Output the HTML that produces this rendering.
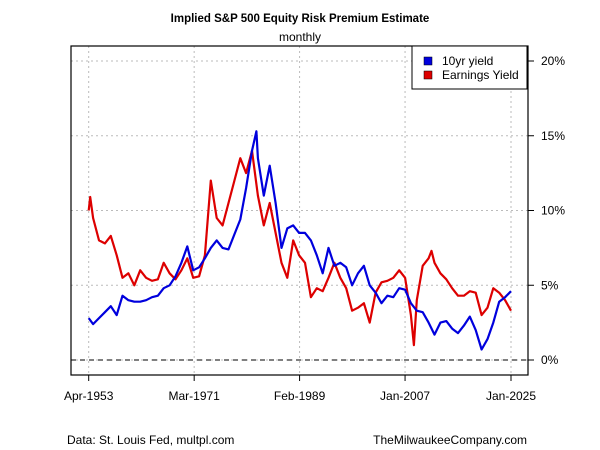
<!DOCTYPE html>
<html><head><meta charset="utf-8"><style>
body{margin:0;background:#fff;font-family:"Liberation Sans",Arial,sans-serif}
svg{display:block}
</style></head><body>
<svg width="600" height="450" xmlns="http://www.w3.org/2000/svg" font-family="Liberation Sans, Arial, sans-serif">
<g id="grid"></g>
<g id="series"></g>
<g id="axes"></g>
<text x="300" y="22" text-anchor="middle" font-size="11.5" font-weight="bold">Implied S&amp;P 500 Equity Risk Premium Estimate</text>
<text x="300" y="41" text-anchor="middle" font-size="12">monthly</text>
<text x="67" y="444" font-size="12">Data: St. Louis Fed, multpl.com</text>
<text x="527" y="444" text-anchor="end" font-size="12">TheMilwaukeeCompany.com</text>
<g>
<rect x="412" y="46" width="115" height="43" fill="#fff" stroke="#000" stroke-width="1"/>
<rect x="424" y="57" width="8" height="8" fill="#0000dd" stroke="#000" stroke-width="0.5"/>
<text x="442" y="65" font-size="12">10yr yield</text>
<rect x="424" y="71" width="8" height="8" fill="#dd0000" stroke="#000" stroke-width="0.5"/>
<text x="442" y="79" font-size="12">Earnings Yield</text>
</g>
</svg>
<script>
const yieldYears=[1953.25,1954,1955,1956,1957,1958,1959,1960,1961,1962,1963,1964,1965,1966,1967,1968,1969,1970,1971,1972,1973,1974,1975,1976,1977,1978,1979,1980,1981,1981.75,1982,1983,1984,1985,1986,1987,1988,1989,1990,1991,1992,1993,1994,1995,1996,1997,1998,1999,2000,2001,2002,2003,2004,2005,2006,2007,2008,2009,2010,2011,2012,2013,2014,2015,2016,2017,2018,2019,2020,2021,2022,2023,2024,2025];
const yieldValues=[2.8,2.4,2.8,3.2,3.6,3.0,4.3,4.0,3.9,3.9,4.0,4.2,4.3,4.8,5.0,5.6,6.5,7.6,6.0,6.2,6.8,7.5,8.0,7.5,7.4,8.4,9.4,11.5,14.0,15.3,13.5,11.0,13.0,10.5,7.5,8.8,9.0,8.5,8.5,8.0,7.0,5.8,7.5,6.3,6.5,6.2,5.0,5.8,6.3,5.0,4.5,3.8,4.3,4.2,4.8,4.7,3.8,3.3,3.2,2.5,1.7,2.5,2.6,2.1,1.8,2.3,2.9,2.0,0.7,1.4,2.5,3.9,4.2,4.6];
const earnYears=[1953.25,1953.5,1954,1955,1956,1957,1958,1959,1960,1961,1962,1963,1964,1965,1966,1967,1968,1969,1970,1971,1972,1973,1974,1975,1976,1977,1978,1979,1980,1981,1982,1983,1984,1985,1986,1987,1988,1989,1990,1991,1992,1993,1994,1995,1996,1997,1998,1999,2000,2001,2002,2003,2004,2005,2006,2007,2008,2008.5,2009,2010,2011,2011.5,2012,2013,2014,2015,2016,2017,2018,2019,2020,2021,2022,2023,2024,2025];
const earnValues=[10.0,10.9,9.5,8.0,7.8,8.3,7.0,5.5,5.8,5.0,6.0,5.5,5.3,5.4,6.5,5.8,5.4,6.0,6.8,5.5,5.6,7.0,12.0,9.5,9.0,10.5,12.0,13.5,12.5,14.0,11.0,9.0,10.5,8.5,6.5,5.5,8.0,7.0,6.5,4.2,4.8,4.6,5.5,6.5,5.5,4.8,3.3,3.5,3.8,2.5,4.5,5.2,5.3,5.5,6.0,5.5,3.0,1.0,4.0,6.3,6.8,7.3,6.5,5.8,5.4,4.8,4.3,4.3,4.6,4.5,3.0,3.5,4.8,4.5,4.0,3.3];
const yTicks=[0,5,10,15,20];
const yTickLabels=["0%","5%","10%","15%","20%"];
const xTicks=[1953.25,1971.17,1989.08,2007.0,2025.0];
const xTickLabels=["Apr-1953","Mar-1971","Feb-1989","Jan-2007","Jan-2025"];

const NS="http://www.w3.org/2000/svg";
const L=71,R=528,T=46,B=375;
function xs(t){return 88.7+(t-1953.25)*(511-88.7)/(2025-1953.25);}
function ys(v){return 360-v*(360-61)/20;}
function mk(tag,attrs,parent){const e=document.createElementNS(NS,tag);for(const k in attrs)e.setAttribute(k,attrs[k]);parent.appendChild(e);return e;}
const grid=document.getElementById('grid'),axes=document.getElementById('axes'),series=document.getElementById('series');
yTicks.forEach((v,i)=>{
 const g=mk('line',{x1:L,x2:R,y1:ys(v),y2:ys(v),stroke:'#bbb','stroke-dasharray':'2,3'},grid);
 
 
 const tk=mk('line',{x1:R,x2:R+6,y1:ys(v),y2:ys(v),stroke:'#000'},axes);
 
 
 const tx=mk('text',{x:R+13,y:ys(v)+4,'font-size':'12'},axes);
 tx.textContent=yTickLabels[i];
 
 
});
xTicks.forEach((t,i)=>{
 const g=mk('line',{x1:xs(t),x2:xs(t),y1:T,y2:B,stroke:'#bbb','stroke-dasharray':'2,3'},grid);
 
 
 const tk=mk('line',{x1:xs(t),x2:xs(t),y1:B,y2:B+6,stroke:'#000'},axes);
 
 
 const tx=mk('text',{x:xs(t),y:B+25,'font-size':'12','text-anchor':'middle'},axes);
 tx.textContent=xTickLabels[i];
 
 
});
const zl=mk('line',{x1:L,x2:R,y1:ys(0),y2:ys(0),stroke:'#000','stroke-dasharray':'5,4'},grid);


const box=mk('rect',{x:L,y:T,width:R-L,height:B-T,fill:'none',stroke:'#000','stroke-width':'1.2'},axes);


function line(xa,va,col,name){
 const d=xa.map((t,i)=>(i?'L':'M')+xs(t).toFixed(1)+','+ys(va[i]).toFixed(1)).join('');
 const p=mk('path',{d:d,fill:'none',stroke:col,'stroke-width':'2.2','stroke-linejoin':'round'},series);
 
 
}
line(earnYears,earnValues,'#dd0000','earnings-yield-line');
line(yieldYears,yieldValues,'#0000dd','10yr-yield-line');
</script>
</body></html>
